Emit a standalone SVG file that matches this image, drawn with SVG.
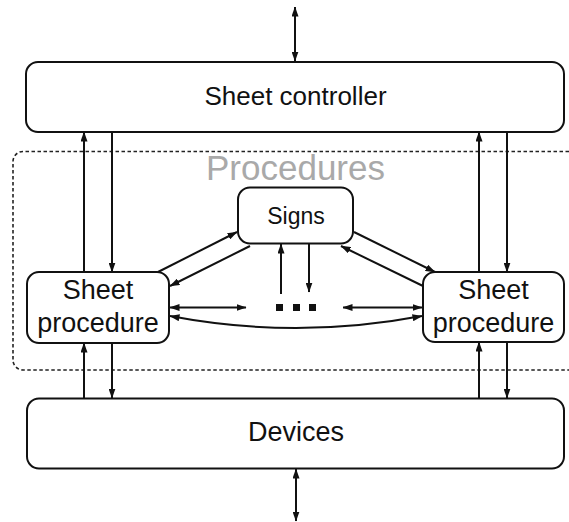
<svg xmlns="http://www.w3.org/2000/svg" width="569" height="522" viewBox="0 0 569 522">
  <style>
    .box { fill: #fff; stroke: #111; stroke-width: 2; }
    .lbl { font-family: "Liberation Sans", Arial, sans-serif; fill: #111; text-anchor: middle; }
    .wire { fill: none; stroke: #111; stroke-width: 2; }
    .one { marker-end: url(#head); }
    .two { marker-start: url(#head); marker-end: url(#head); }
    .frame { fill: none; stroke: #222; stroke-width: 1.6; stroke-dasharray: 3.5 2.5; }
  </style>
  <defs>
    <marker id="head" viewBox="0 0 10 7" markerWidth="10" markerHeight="7" refX="9.5" refY="3.5" orient="auto-start-reverse" markerUnits="userSpaceOnUse">
      <path d="M0,0 L10,3.5 L0,7 z" fill="#111"/>
    </marker>
  </defs>
  <rect width="569" height="522" fill="#fff"/>

  <!-- procedures boundary (open to the right) -->
  <g id="procedures">
    <path class="frame" d="M569,151.5 H23 A10,10 0 0 0 13,161.5 V360 A10,10 0 0 0 23,370 H569"/>
    <text x="295.5" y="180" font-family="Liberation Sans, Arial, sans-serif" font-size="35" fill="#a9a9a9" text-anchor="middle">Procedures</text>
  </g>

  <g id="connectors">
    <!-- external links -->
    <line class="wire two" x1="295" y1="7" x2="295" y2="61"/>
    <line class="wire two" x1="296" y1="469" x2="296" y2="521"/>
    <!-- controller <-> sheet procedures -->
    <line class="wire one" x1="84" y1="272" x2="84" y2="132"/>
    <line class="wire one" x1="112" y1="132" x2="112" y2="272"/>
    <line class="wire one" x1="479" y1="272" x2="479" y2="132"/>
    <line class="wire one" x1="507" y1="132" x2="507" y2="272"/>
    <!-- sheet procedures <-> devices -->
    <line class="wire one" x1="84" y1="398" x2="84" y2="343"/>
    <line class="wire one" x1="112" y1="343" x2="112" y2="398"/>
    <line class="wire one" x1="479" y1="398" x2="479" y2="342"/>
    <line class="wire one" x1="507" y1="342" x2="507" y2="398"/>
    <!-- signs links -->
    <line class="wire one" x1="158" y1="272" x2="237" y2="232"/>
    <line class="wire one" x1="250" y1="246" x2="170" y2="286"/>
    <line class="wire one" x1="354" y1="232" x2="435" y2="272"/>
    <line class="wire one" x1="423" y1="286" x2="341" y2="246"/>
    <line class="wire one" x1="281" y1="294" x2="281" y2="244"/>
    <line class="wire one" x1="309" y1="244" x2="309" y2="292"/>
    <!-- procedure to procedure -->
    <line class="wire two" x1="170" y1="307.5" x2="246" y2="307.5"/>
    <line class="wire two" x1="343" y1="307.5" x2="422" y2="307.5"/>
    <path class="wire two" d="M170,316 Q296,340 422,316"/>
  </g>

  <g id="controller">
    <rect class="box" x="26" y="62" width="538" height="70" rx="12"/>
    <text class="lbl" x="295.5" y="105" font-size="26">Sheet controller</text>
  </g>

  <g id="signs">
    <rect class="box" x="238" y="187.5" width="115" height="56" rx="12"/>
    <text class="lbl" x="296" y="224" font-size="23">Signs</text>
  </g>

  <g id="procedure-left">
    <rect class="box" x="27" y="272" width="142" height="71" rx="12"/>
    <text class="lbl" x="98" y="299" font-size="27">Sheet</text>
    <text class="lbl" x="98" y="331.5" font-size="27">procedure</text>
  </g>

  <g id="procedure-right">
    <rect class="box" x="423" y="272" width="141" height="70" rx="12"/>
    <text class="lbl" x="493.5" y="299" font-size="27">Sheet</text>
    <text class="lbl" x="493.5" y="331.5" font-size="27">procedure</text>
  </g>

  <g id="more">
    <rect x="276" y="304" width="7" height="7" fill="#111"/>
    <rect x="293" y="304" width="7" height="7" fill="#111"/>
    <rect x="309" y="304" width="7" height="7" fill="#111"/>
  </g>

  <g id="devices">
    <rect class="box" x="27" y="398.5" width="537" height="70" rx="12"/>
    <text class="lbl" x="296" y="441" font-size="27">Devices</text>
  </g>
</svg>
